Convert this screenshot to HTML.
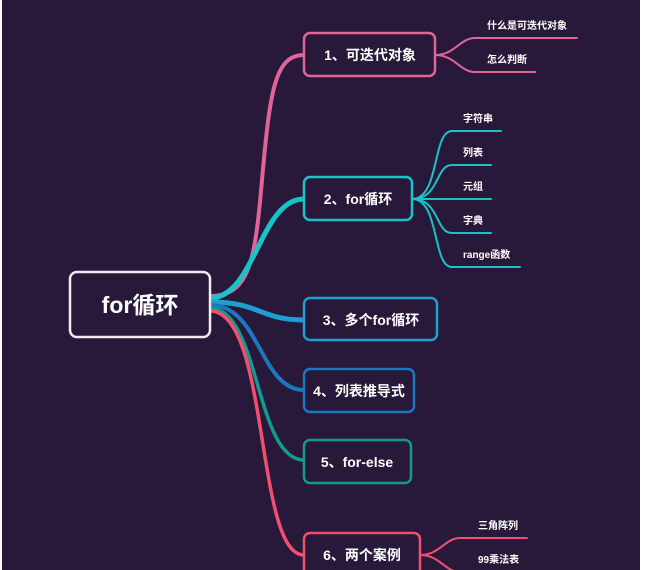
<!DOCTYPE html>
<html><head><meta charset="utf-8"><style>
body{margin:0;background:#fff;width:656px;height:570px;overflow:hidden}
svg{display:block}
text{font-family:"Liberation Sans","Noto Sans CJK SC",sans-serif;fill:#fff;font-weight:bold}
</style></head><body>
<svg width="656" height="570" viewBox="0 0 656 570">
<rect x="2" y="0" width="638" height="570" fill="#28193b"/>
<g fill="none" stroke-linecap="round">
<!-- root connectors -->
<path d="M210 296 C250 296 255 260 262 180 C270 90 275 55 304 55" stroke="#e0649a" stroke-width="4"/>
<path d="M210 298 C255 298 260 199 304 199" stroke="#19c3c6" stroke-width="5"/>
<path d="M210 302 C260 302 260 320 304 320" stroke="#1ba0d0" stroke-width="5"/>
<path d="M210 305 C260 305 260 390 304 390" stroke="#1a78c0" stroke-width="4"/>
<path d="M210 308 C260 308 255 460 304 460" stroke="#13998f" stroke-width="3.5"/>
<path d="M210 311 C270 311 255 555 304 555" stroke="#f0506e" stroke-width="3.5"/>
<!-- box1 children -->
<path d="M435 55 C455 55 460 38 475 38 L577 38" stroke="#e0649a" stroke-width="2"/>
<path d="M435 55 C455 55 460 72 475 72 L535 72" stroke="#e0649a" stroke-width="2"/>
<!-- box2 children -->
<g stroke="#19c3c6" stroke-width="2">
<path d="M412 199 C440 199 432 131 452 131 L501 131"/>
<path d="M412 199 C440 199 435 165 452 165 L491 165"/>
<path d="M412 199 L491 199"/>
<path d="M412 199 C440 199 435 233 452 233 L491 233"/>
<path d="M412 199 C440 199 432 267 452 267 L520 267"/>
</g>
<!-- box6 children -->
<path d="M420 555 C440 555 445 538 460 538 L527 538" stroke="#f0506e" stroke-width="2"/>
<path d="M420 555 C440 555 445 572 460 572" stroke="#f0506e" stroke-width="2"/>
</g>
<!-- boxes -->
<g fill="#28193b" stroke-width="2.5">
<rect x="70" y="272" width="140" height="65" rx="7" stroke="#f0ecef"/>
<rect x="304" y="33" width="131" height="43" rx="6" stroke="#e0649a"/>
<rect x="304" y="177" width="108" height="43" rx="6" stroke="#19c3c6"/>
<rect x="304" y="298" width="133" height="42" rx="6" stroke="#1ba0d0"/>
<rect x="304" y="369" width="110" height="43" rx="6" stroke="#1a78c0"/>
<rect x="304" y="440" width="107" height="43" rx="6" stroke="#13998f"/>
<rect x="304" y="533" width="116" height="45" rx="6" stroke="#f0506e"/>
</g>
<text x="140" y="313" font-size="23" text-anchor="middle">for循环</text>
<g font-size="14" text-anchor="middle">
<text x="370" y="60">1、可迭代对象</text>
<text x="358" y="204">2、for循环</text>
<text x="371" y="325">3、多个for循环</text>
<text x="359" y="396">4、列表推导式</text>
<text x="357" y="467">5、for-else</text>
<text x="362" y="560">6、两个案例</text>
</g>
<g font-size="10">
<text x="487" y="29">什么是可迭代对象</text>
<text x="487" y="63">怎么判断</text>
<text x="463" y="122">字符串</text>
<text x="463" y="156">列表</text>
<text x="463" y="190">元组</text>
<text x="463" y="224">字典</text>
<text x="463" y="258">range函数</text>
<text x="478" y="529">三角阵列</text>
<text x="478" y="563">99乘法表</text>
</g>
</svg>
</body></html>
